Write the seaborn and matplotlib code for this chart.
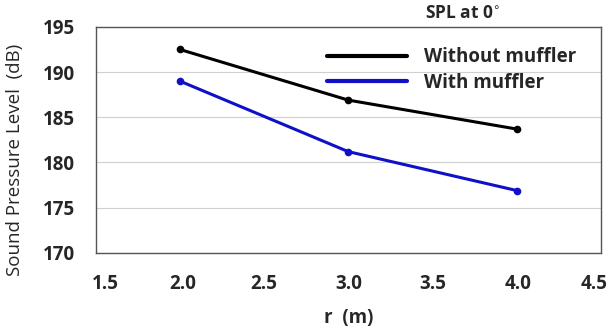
import matplotlib
matplotlib.use('Agg')
import matplotlib.pyplot as plt
import matplotlib.transforms as mtransforms
import seaborn as sns
import pandas as pd

# data
r_values = [2.0, 3.0, 4.0]
spl_without = [192.5, 186.9, 183.7]
spl_with = [189.0, 181.2, 176.9]
series_names = ['Without muffler', 'With muffler']
series_colors = ['#000000', '#1010c8']
x_ticks = [1.5, 2.0, 2.5, 3.0, 3.5, 4.0, 4.5]
y_ticks = [170, 175, 180, 185, 190, 195]

df = pd.DataFrame({
    'r': r_values * 2,
    'spl': spl_without + spl_with,
    'series': [series_names[0]] * 3 + [series_names[1]] * 3,
})

sns.set_style('white')
plt.rcParams['font.family'] = ['Open Sans', 'DejaVu Sans']

fig = plt.figure(figsize=(6.1, 3.28), dpi=100)
ax = fig.add_axes([0.157, 0.229, 0.828, 0.689])

sns.lineplot(data=df, x='r', y='spl', hue='series', palette=series_colors,
             marker='o', markersize=5.5, markeredgewidth=0, linewidth=2.2, ax=ax)

ax.set_xlim(1.5, 4.5)
ax.set_ylim(170, 195)
ax.set_xticks(x_ticks)
ax.set_xticklabels([f'{v:.1f}' for v in x_ticks], fontweight='bold')
ax.set_yticks(y_ticks)
ax.set_yticklabels([str(v) for v in y_ticks], fontweight='bold')
ax.tick_params(axis='both', labelsize=13.5, length=0, pad=15)
ax.yaxis.grid(True, color='#d0d0d0', linewidth=0.8)
for s in ax.spines.values():
    s.set_color('#555555')
    s.set_linewidth(1.0)

# small horizontal nudges of the x tick labels (pixels), like the original
nudges = [10, 3, 0, 0, 0, 1, -7]
for lbl, dx in zip(ax.get_xticklabels(), nudges):
    off = mtransforms.ScaledTranslation(dx / 100, 0, fig.dpi_scale_trans)
    lbl.set_transform(lbl.get_transform() + off)

ax.set_xlabel('r  (m)', fontsize=13.5, fontweight='bold', labelpad=10)
ax.set_ylabel('Sound Pressure Level  (dB)', fontsize=13.5)
ax.yaxis.set_label_coords(-0.143, 0.41)

leg = ax.legend(loc='upper left', bbox_to_anchor=(0.457, 0.91), frameon=False,
                fontsize=13.5, handlelength=4.3, handletextpad=0.9,
                labelspacing=0.3, borderpad=0, borderaxespad=0)
for t in leg.get_texts():
    t.set_fontweight('bold')
for h in leg.legend_handles:
    h.set_marker('')
    h.set_linewidth(3)

fig.text(0.697, 0.945, 'SPL at 0$^{\\circ}$', fontsize=12.5, fontweight='bold')

fig.savefig('out.png', dpi=100)
